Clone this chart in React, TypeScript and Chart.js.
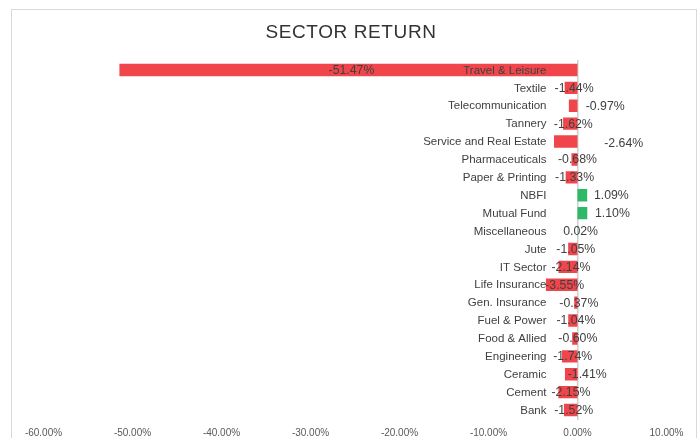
import React, { useEffect, useRef } from 'react';
import { Chart, registerables } from 'chart.js';

Chart.register(...registerables);

const chartTitle = 'SECTOR RETURN';

const categories = [
  'Travel & Leisure',
  'Textile',
  'Telecommunication',
  'Tannery',
  'Service and Real Estate',
  'Pharmaceuticals',
  'Paper & Printing',
  'NBFI',
  'Mutual Fund',
  'Miscellaneous',
  'Jute',
  'IT Sector',
  'Life Insurance',
  'Gen. Insurance',
  'Fuel & Power',
  'Food & Allied',
  'Engineering',
  'Ceramic',
  'Cement',
  'Bank',
];

const returns = [
  -51.47, -1.44, -0.97, -1.62, -2.64, -0.68, -1.33, 1.09, 1.1, 0.02,
  -1.05, -2.14, -3.55, -0.37, -1.04, -0.6, -1.74, -1.41, -2.15, -1.52,
];

const xAxisMin = -60;
const xAxisMax = 10;
const xAxisStep = 10;

const NEG_COLOR = '#F0464B';
const POS_COLOR = '#2DB968';
const FONT = '"Liberation Sans", Arial, sans-serif';

// manual label nudges (px) like the hand-moved labels in the source workbook
const labelNudges: Record<string, [number, number]> = {
  Telecommunication: [29, 0],
  'Service and Real Estate': [55, 2],
  Ceramic: [13, 0],
  NBFI: [26, 0],
  'Mutual Fund': [27, 0],
};

const framePlugin = {
  id: 'frame',
  beforeDraw(chart: any) {
    const { ctx, width, height } = chart;
    ctx.save();
    ctx.fillStyle = '#ffffff';
    ctx.fillRect(0, 0, width, height);
    ctx.strokeStyle = '#d9d9d9';
    ctx.lineWidth = 1;
    ctx.strokeRect(11.5, 9.5, 685, 600);
    // title (letter-spaced, centred on the chart frame)
    ctx.font = '19px ' + FONT;
    (ctx as any).letterSpacing = '0.6px';
    ctx.fillStyle = '#333333';
    ctx.textAlign = 'center';
    ctx.textBaseline = 'middle';
    ctx.fillText(chartTitle, 351, 32.5);
    ctx.restore();
  },
};

// category labels sit next to the zero line (Excel "next to axis")
const categoryLabelPlugin = {
  id: 'categoryLabels',
  afterDatasetsDraw(chart: any) {
    const { ctx } = chart;
    const xs = chart.scales.x;
    const ys = chart.scales.y;
    const zero = xs.getPixelForValue(0);
    ctx.save();
    ctx.font = '11.5px ' + FONT;
    ctx.fillStyle = '#404040';
    ctx.textBaseline = 'middle';
    ctx.textAlign = 'right';
    categories.forEach((c, i) => {
      ctx.fillText(c, zero - 31, ys.getPixelForValue(i) + 0.5);
    });
    ctx.restore();
  },
};

const valueLabelPlugin = {
  id: 'valueLabels',
  afterDatasetsDraw(chart: any) {
    const { ctx } = chart;
    const meta = chart.getDatasetMeta(0);
    const xs = chart.scales.x;
    const zero = xs.getPixelForValue(0);
    ctx.save();
    ctx.font = '12.3px ' + FONT;
    ctx.fillStyle = '#404040';
    ctx.textBaseline = 'middle';
    ctx.textAlign = 'center';
    meta.data.forEach((bar: any, i: number) => {
      const v = returns[i];
      const text = v.toFixed(2) + '%';
      const [nx, ny] = labelNudges[categories[i]] || [0, 0];
      const cx = (bar.x + zero) / 2 + 3 + nx;
      ctx.fillText(text, cx, bar.y + 0.5 + ny);
    });
    ctx.restore();
  },
};

function SectorChart() {
  const ref = useRef<HTMLCanvasElement | null>(null);
  useEffect(() => {
    document.body.style.margin = '0';
    if (!ref.current) return;
    const chart = new Chart(ref.current, {
      type: 'bar',
      data: {
        labels: categories,
        datasets: [
          {
            data: returns,
            backgroundColor: returns.map((v) => (v >= 0 ? POS_COLOR : NEG_COLOR)),
            borderWidth: 0,
            barPercentage: 0.69,
            categoryPercentage: 1,
          },
        ],
      },
      options: {
        indexAxis: 'y',
        responsive: false,
        animation: false,
        layout: { padding: { left: 43.5, right: 31.5, top: 61, bottom: 0 } },
        plugins: {
          legend: { display: false },
          tooltip: { enabled: false },
          title: { display: false },
        },
        scales: {
          x: {
            min: xAxisMin,
            max: xAxisMax,
            grid: { display: false, drawTicks: false },
            border: { display: false },
            afterFit: (scale: any) => {
              scale.height = 19;
            },
            ticks: {
              stepSize: xAxisStep,
              color: '#595959',
              padding: 8,
              font: { family: FONT, size: 10 },
              callback: (v: any) => Number(v).toFixed(2) + '%',
            },
          },
          y: {
            position: { x: 0 } as any,
            offset: true,
            grid: { display: false, drawTicks: false },
            border: { display: true, color: '#d0d0d0', width: 1.5 },
            ticks: { display: false },
          },
        },
      },
      plugins: [framePlugin, categoryLabelPlugin, valueLabelPlugin],
    });
    return () => chart.destroy();
  }, []);
  return <canvas ref={ref} width={698} height={438} style={{ display: 'block' }} />;
}

export default function App() {
  return (
    <div style={{ width: 698, height: 438 }}>
      <SectorChart />
    </div>
  );
}
